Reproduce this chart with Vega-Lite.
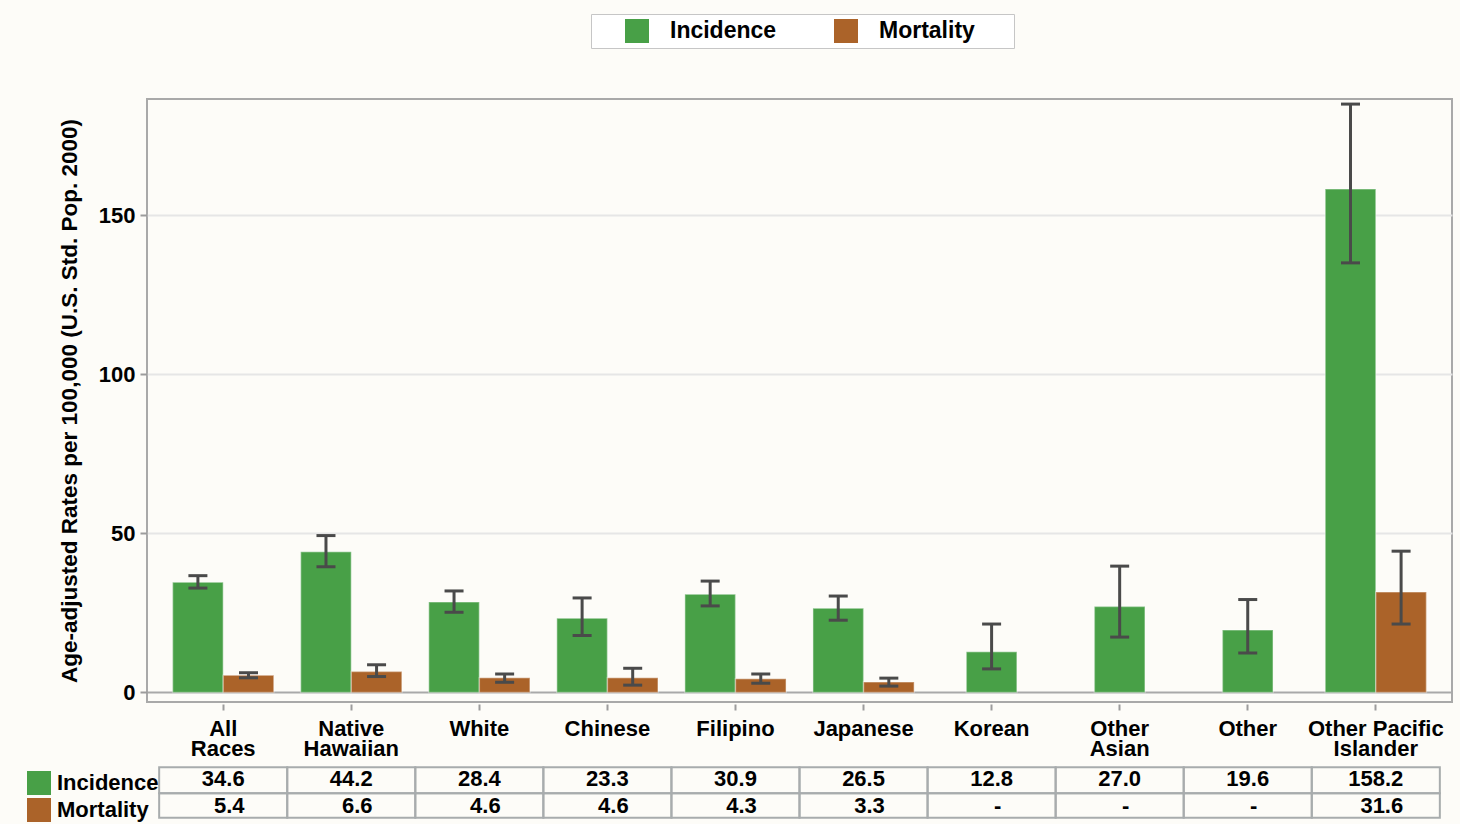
{
  "$schema": "https://vega.github.io/schema/vega-lite/v6.json",
  "width": 1305,
  "height": 603,
  "autosize": {"type": "none"},
  "padding": {"left": 147, "top": 99, "right": 8, "bottom": 122},
  "background": "#fdfcf8",
  "config": {
    "font": "Liberation Sans",
    "view": {"stroke": "#a9a9a9", "strokeWidth": 2},
    "axis": {"labelFont": "Liberation Sans", "titleFont": "Liberation Sans", "labelColor": "#000000", "titleColor": "#000000", "tickColor": "#9c9c9c", "tickWidth": 2, "domain": false},
    "legend": {"labelFont": "Liberation Sans", "labelColor": "#000000"}
  },
  "data": {
    "values": [
      {"category": "All Races", "series": "Incidence", "value": 34.6, "lower": 32.8, "upper": 36.7},
      {"category": "All Races", "series": "Mortality", "value": 5.4, "lower": 4.6, "upper": 6.2},
      {"category": "Native Hawaiian", "series": "Incidence", "value": 44.2, "lower": 39.5, "upper": 49.3},
      {"category": "Native Hawaiian", "series": "Mortality", "value": 6.6, "lower": 5.0, "upper": 8.7},
      {"category": "White", "series": "Incidence", "value": 28.4, "lower": 25.2, "upper": 31.9},
      {"category": "White", "series": "Mortality", "value": 4.6, "lower": 3.2, "upper": 5.8},
      {"category": "Chinese", "series": "Incidence", "value": 23.3, "lower": 17.9, "upper": 29.7},
      {"category": "Chinese", "series": "Mortality", "value": 4.6, "lower": 2.3, "upper": 7.6},
      {"category": "Filipino", "series": "Incidence", "value": 30.9, "lower": 27.2, "upper": 35.0},
      {"category": "Filipino", "series": "Mortality", "value": 4.3, "lower": 2.9, "upper": 5.8},
      {"category": "Japanese", "series": "Incidence", "value": 26.5, "lower": 22.7, "upper": 30.3},
      {"category": "Japanese", "series": "Mortality", "value": 3.3, "lower": 2.0, "upper": 4.5},
      {"category": "Korean", "series": "Incidence", "value": 12.8, "lower": 7.4, "upper": 21.5},
      {"category": "Korean", "series": "Mortality", "value": null, "lower": null, "upper": null},
      {"category": "Other Asian", "series": "Incidence", "value": 27.0, "lower": 17.4, "upper": 39.7},
      {"category": "Other Asian", "series": "Mortality", "value": null, "lower": null, "upper": null},
      {"category": "Other", "series": "Incidence", "value": 19.6, "lower": 12.4, "upper": 29.2},
      {"category": "Other", "series": "Mortality", "value": null, "lower": null, "upper": null},
      {"category": "Other Pacific Islander", "series": "Incidence", "value": 158.2, "lower": 135.0, "upper": 184.9},
      {"category": "Other Pacific Islander", "series": "Mortality", "value": 31.6, "lower": 21.5, "upper": 44.4}
    ]
  },
  "transform": [
    {"joinaggregate": [{"op": "valid", "field": "value", "as": "n"}], "groupby": ["category"]}
  ],
  "encoding": {
    "x": {
      "field": "category",
      "type": "nominal",
      "scale": {
        "domain": ["All Races", "Native Hawaiian", "White", "Chinese", "Filipino", "Japanese", "Korean", "Other Asian", "Other", "Other Pacific Islander"],
        "paddingInner": 0.21,
        "paddingOuter": 0.2
      },
      "axis": {
        "title": null,
        "labelAngle": 0,
        "labelFontSize": 22,
        "labelFontWeight": "bold",
        "labelPadding": 8,
        "labelLineHeight": 20,
        "labelBaseline": "top",
        "tickSize": 6,
        "offset": 2,
        "labelExpr": "datum.value == 'Other Pacific Islander' ? ['Other Pacific', 'Islander'] : split(datum.value, ' ')"
      }
    }
  },
  "layer": [
    {
      "transform": [{"filter": "datum.n == 2"}],
      "mark": {"type": "bar", "stroke": "#ffffff", "strokeOpacity": 0.35, "strokeWidth": 1.5},
      "encoding": {
        "xOffset": {"field": "series", "type": "nominal", "scale": {"domain": ["Incidence", "Mortality"]}},
        "y": {
          "field": "value",
          "type": "quantitative",
          "scale": {"domain": [-3, 186.5], "nice": false, "zero": false},
          "axis": {
            "title": "Age-adjusted Rates per 100,000 (U.S. Std. Pop. 2000)",
            "values": [0, 50, 100, 150],
            "labelFontSize": 22,
            "labelFontWeight": "bold",
            "tickSize": 7,
            "labelPadding": 5,
            "titleFontSize": 22.5,
            "titleFontWeight": "bold",
            "titlePadding": 17,
            "grid": true,
            "gridColor": {"condition": {"test": "datum.value === 0", "value": "#a9a9a9"}, "value": "#e6e6e6"},
            "gridWidth": 2
          }
        },
        "y2": {"datum": 0},
        "color": {
          "field": "series",
          "type": "nominal",
          "scale": {"domain": ["Incidence", "Mortality"], "range": ["#48a047", "#ab6329"]},
          "legend": {
            "title": null,
            "orient": "none",
            "legendX": 444,
            "legendY": -85,
            "direction": "horizontal",
            "symbolType": "square",
            "symbolSize": 576,
            "symbolStrokeWidth": 0,
            "symbolOffset": 29,
            "labelFontSize": 23,
            "labelFontWeight": "bold",
            "labelOffset": 21,
            "columnPadding": 28,
            "padding": 5,
            "strokeColor": "#c6c6c6",
            "fillColor": "#ffffff",
            "labelExpr": "datum.label == 'Mortality' ? 'Mortality\u2800\u2800' : datum.label"
          }
        }
      }
    },
    {
      "transform": [{"filter": "datum.n == 1 && isValid(datum.value)"}],
      "mark": {"type": "bar", "width": {"band": 0.5}, "stroke": "#ffffff", "strokeOpacity": 0.35, "strokeWidth": 1.5},
      "encoding": {
        "y": {"field": "value", "type": "quantitative"},
        "y2": {"datum": 0},
        "color": {"field": "series", "type": "nominal"}
      }
    },
    {
      "transform": [{"filter": "datum.n == 2"}],
      "mark": {"type": "rule", "color": "#4a4a4a", "strokeWidth": 3},
      "encoding": {
        "xOffset": {"field": "series", "type": "nominal"},
        "y": {"field": "lower", "type": "quantitative"},
        "y2": {"field": "upper"}
      }
    },
    {
      "transform": [{"filter": "datum.n == 2"}, {"fold": ["lower", "upper"], "as": ["bound", "bv"]}],
      "mark": {"type": "tick", "color": "#4a4a4a", "size": 19, "thickness": 3, "opacity": 1},
      "encoding": {
        "xOffset": {"field": "series", "type": "nominal"},
        "y": {"field": "bv", "type": "quantitative"}
      }
    },
    {
      "transform": [{"filter": "datum.n == 1 && isValid(datum.value)"}],
      "mark": {"type": "rule", "color": "#4a4a4a", "strokeWidth": 3},
      "encoding": {
        "y": {"field": "lower", "type": "quantitative"},
        "y2": {"field": "upper"}
      }
    },
    {
      "transform": [{"filter": "datum.n == 1 && isValid(datum.value)"}, {"fold": ["lower", "upper"], "as": ["bound", "bv"]}],
      "mark": {"type": "tick", "color": "#4a4a4a", "size": 19, "thickness": 3, "opacity": 1},
      "encoding": {
        "y": {"field": "bv", "type": "quantitative"}
      }
    },
    {
      "transform": [{"filter": "datum.series == 'Incidence'"}],
      "mark": {"type": "bar", "width": {"band": 1.266}, "fill": "#ffffff", "fillOpacity": 0, "stroke": "#a8acad", "strokeWidth": 2},
      "encoding": {
        "y": {"datum": -23.5},
        "y2": {"datum": -31.7}
      }
    },
    {
      "transform": [{"filter": "datum.series == 'Mortality'"}],
      "mark": {"type": "bar", "width": {"band": 1.266}, "fill": "#ffffff", "fillOpacity": 0, "stroke": "#a8acad", "strokeWidth": 2},
      "encoding": {
        "y": {"datum": -31.7},
        "y2": {"datum": -39.4}
      }
    },
    {
      "transform": [{"filter": "datum.series == 'Incidence'"}],
      "mark": {"type": "text", "fontSize": 22, "fontWeight": "bold", "color": "#000000", "baseline": "middle", "align": "center"},
      "encoding": {
        "y": {"datum": -27.3},
        "text": {"condition": {"test": "!isValid(datum.value)", "value": "-"}, "field": "value", "type": "quantitative", "format": ".1f"}
      }
    },
    {
      "transform": [{"filter": "datum.series == 'Mortality'"}],
      "mark": {"type": "text", "fontSize": 22, "fontWeight": "bold", "color": "#000000", "baseline": "middle", "align": "center", "dx": 6},
      "encoding": {
        "y": {"datum": -35.8},
        "text": {"condition": {"test": "!isValid(datum.value)", "value": "-"}, "field": "value", "type": "quantitative", "format": ".1f"}
      }
    },
    {
      "transform": [{"filter": "isValid(datum.value)"}],
      "mark": {"type": "point", "filled": true, "opacity": 0},
      "encoding": {
        "y": {"field": "value", "type": "quantitative"},
        "fill": {
          "field": "series",
          "type": "nominal",
          "scale": {"domain": ["Incidence", "Mortality"], "range": ["#48a047", "#ab6329"]},
          "legend": {
            "title": null,
            "orient": "bottom-left",
            "offset": -120,
            "direction": "vertical",
            "symbolType": "square",
            "symbolSize": 576,
            "symbolOpacity": 1,
            "symbolStrokeWidth": 0,
            "labelFontSize": 22,
            "labelFontWeight": "bold",
            "labelOffset": 6,
            "rowPadding": 3
          }
        }
      }
    }
  ]
}
